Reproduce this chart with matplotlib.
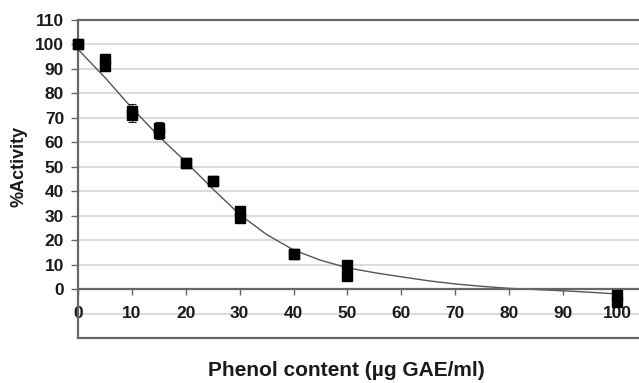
import numpy as np
import matplotlib
matplotlib.use('Agg')
from matplotlib import pyplot as plt

# phenol dose vs % activity, two replicate readings per dose
conc = [0, 5, 10, 15, 20, 25, 30, 40, 50, 100]
act_rep1 = [100, 94, 73, 66, 51.5, 44.3, 32, 14.3, 10, -2.3]
act_rep2 = [100, 91, 71, 64, 51.5, 44.3, 29, 14.3, 5.3, -5.3]
act_err = [0.5, 2, 2.5, 2.5, 0.8, 0.5, 1, 0.5, 1.5, 0.5]

# trend line
trend_x = [0, 5, 10, 15, 20, 25, 30, 35, 40, 45, 50, 55, 60, 65, 70, 75, 80, 85, 90, 95, 100]
trend_y = [98, 86.5, 74, 62.5, 52, 41, 30.5, 22.3, 16, 11.8, 8.7, 6.7, 5, 3.4, 2.1, 1.1, 0.3, -0.2, -0.7, -1.3, -2]

xticks = [0, 10, 20, 30, 40, 50, 60, 70, 80, 90, 100]
yticks = [0, 10, 20, 30, 40, 50, 60, 70, 80, 90, 100, 110]

plt.rcParams['font.family'] = ['Liberation Sans', 'DejaVu Sans']
plt.rcParams['font.weight'] = 'bold'

fig = plt.figure(figsize=(6.39, 3.83), dpi=100)
ax = fig.add_axes([0.122, 0.1175, 0.878, 0.8303])

ax.set_xlim(0, 104.1)
ax.set_ylim(-20, 110)

# light horizontal grid
for yv in yticks[1:-1] + [-10]:
    ax.axhline(yv, color='#dcdcdc', lw=1.4, zorder=0)

ax.plot(trend_x, trend_y, color='#555555', lw=1.0, zorder=2)

for vals in (act_rep1, act_rep2):
    ax.errorbar(conc, vals, yerr=act_err, fmt='s', color='black', ms=6.5,
                ecolor='#222222', elinewidth=0.8, capsize=3, capthick=0.8,
                zorder=3, clip_on=False)

# frame
for side in ['left', 'top', 'bottom']:
    ax.spines[side].set_color('#666666')
    ax.spines[side].set_linewidth(1.6)
ax.spines['right'].set_visible(False)
ax.spines['bottom'].set_position(('data', 0))
ax.axhline(-20, color='#666666', lw=1.6, clip_on=False)

ax.set_xticks(xticks)
ax.set_yticks(yticks)
ax.tick_params(axis='y', direction='out', length=5, width=1, color='#666666',
               pad=5, labelsize=12.5, labelcolor='#1a1a1a')
ax.tick_params(axis='x', direction='out', length=4, width=1, color='#666666',
               pad=8.5, labelsize=12.5, labelcolor='#1a1a1a')
for lab in ax.get_xticklabels() + ax.get_yticklabels():
    lab.set_fontweight('bold')

fig.text(0.03, 1 - 166 / 383, '%Activity', rotation=90, ha='center', va='center',
         fontsize=13, fontweight='bold', color='#1a1a1a')
fig.text(346 / 639, 1 - 370 / 383, 'Phenol content (\u00b5g GAE/ml)', ha='center', va='center',
         fontsize=15, fontweight='bold', color='#1a1a1a')

fig.savefig('out.png', dpi=100)
